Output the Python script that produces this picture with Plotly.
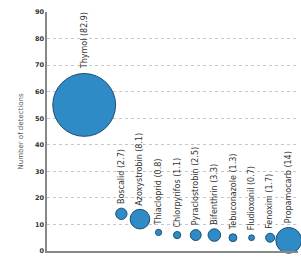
import plotly.graph_objects as go
import math

names = ["Thymol", "Boscalid", "Azoxystrobin", "Thiacloprid", "Chlorpyrifos",
         "Pyraclostrobin", "Bifenthrin", "Tebuconazole", "Fludioxonil", "Fenoxim",
         "Propamocarb"]
positions = [0, 2, 3, 4, 5, 6, 7, 8, 9, 10, 11]
detections = [55, 14, 12, 7, 6, 6, 6, 5, 5, 5, 4]
sizes = [82.9, 2.7, 8.1, 0.8, 1.1, 2.5, 3.3, 1.3, 0.7, 1.7, 14]
size_labels = ["82.9", "2.7", "8.1", "0.8", "1.1", "2.5", "3.3", "1.3", "0.7", "1.7", "14"]
y_ticks = [0, 10, 20, 30, 40, 50, 60, 70, 80, 90]

K = 6.9  # px of diameter per sqrt(unit of size)
diam = [K * math.sqrt(s) for s in sizes]

fig = go.Figure()
fig.add_trace(go.Scatter(
    x=positions, y=detections, mode="markers",
    marker=dict(size=diam, sizemode="diameter",
                color="#2f8bc6", line=dict(color="#1d4e72", width=1), opacity=1),
    cliponaxis=False, showlegend=False, hoverinfo="skip",
))

for xp, yv, d, n, lab in zip(positions, detections, diam, names, size_labels):
    fig.add_annotation(x=xp, y=yv, text=f"{n} ({lab})", textangle=-90,
                       showarrow=False, xanchor="center", yanchor="bottom",
                       yshift=d / 2 + 2,
                       font=dict(family="DejaVu Sans", size=8, color="#333"))

fig.update_layout(
    width=301, height=258,
    margin=dict(l=47, r=3, t=12, b=7, autoexpand=False),
    plot_bgcolor="white", paper_bgcolor="white",
    xaxis=dict(range=[-2, 11.5], showgrid=False, zeroline=False, showticklabels=False,
               ticks="", showline=True, linecolor="#888", linewidth=2, automargin=False),
    yaxis=dict(range=[0, 90], tickvals=y_ticks, showgrid=True, gridcolor="#c8c8c8",
               griddash="dot", gridwidth=1, zeroline=False, showline=True,
               linecolor="#888", linewidth=1.5, ticks="", automargin=False,
               tickfont=dict(family="DejaVu Sans", size=6.5, color="#333", weight="bold"),
               title=dict(text="Number of detections", standoff=10,
                          font=dict(family="DejaVu Sans", size=7, color="#555"))),
)

fig.write_html("out.html", config={"displayModeBar": False},
               post_script="document.body.style.margin='0';document.body.style.overflow='hidden';")
